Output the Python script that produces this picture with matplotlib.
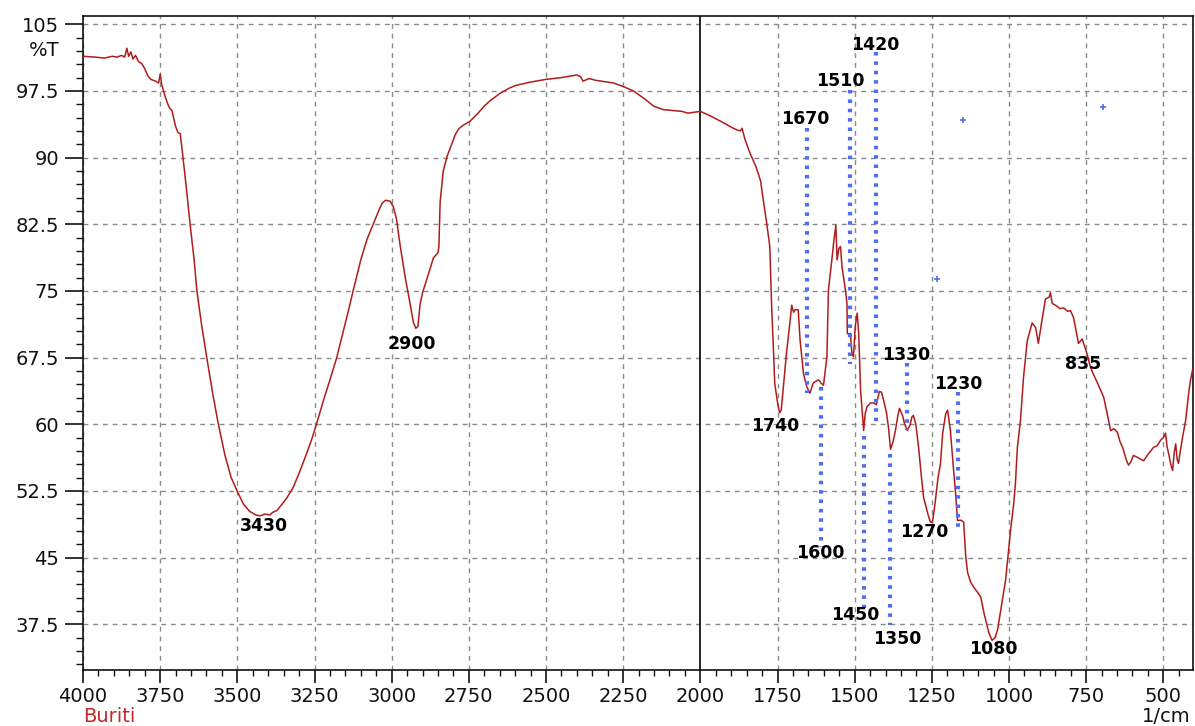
import numpy as np
import matplotlib
matplotlib.use("Agg")
import matplotlib.pyplot as plt
from matplotlib.ticker import FixedLocator, MultipleLocator
import matplotlib.transforms as mtransforms

# ---------------- data ----------------
wavenumber = [
    4000, 3960, 3930, 3905, 3890, 3875, 3865, 3858, 3852, 3845, 3838, 3830, 3820, 3810, 3800,
    3790, 3780, 3765, 3755, 3750, 3745, 3735, 3725, 3718, 3712, 3700, 3692, 3685, 3676, 3665,
    3653, 3640, 3631, 3615, 3599, 3580, 3562, 3540, 3520, 3502, 3480, 3460, 3440, 3426, 3410,
    3395, 3385, 3372, 3360, 3340, 3319, 3300, 3280, 3260, 3243, 3220, 3200, 3178, 3160, 3140,
    3125, 3100, 3080, 3060, 3040, 3030, 3020, 3005, 2995, 2985, 2972, 2956, 2940, 2930, 2922,
    2915, 2908, 2900, 2880, 2865, 2850, 2847, 2843, 2833, 2820, 2810, 2795, 2784, 2770, 2746,
    2720, 2700, 2681, 2650, 2620, 2600, 2550, 2500, 2450, 2400, 2388, 2380, 2360, 2340, 2300,
    2282, 2250, 2217, 2180, 2152, 2120, 2088, 2060, 2040, 2020, 2000,
    1968, 1935, 1893, 1880, 1870, 1865, 1855, 1838, 1820, 1805, 1796, 1785, 1775, 1769, 1764,
    1759, 1748, 1743, 1738, 1732, 1721, 1710, 1704, 1698, 1693, 1683, 1677, 1666, 1655, 1645,
    1635, 1628, 1617, 1608, 1601, 1590, 1585, 1574, 1568, 1561, 1557, 1551, 1546, 1541, 1530,
    1525, 1524, 1514, 1509, 1504, 1498, 1492, 1487, 1481, 1471, 1466, 1460, 1449, 1438, 1430,
    1420, 1413, 1405, 1397, 1390, 1384, 1376, 1368, 1360, 1355, 1345, 1338, 1329, 1320, 1315,
    1310, 1302, 1293, 1285, 1277, 1262, 1255, 1248, 1240, 1230, 1222, 1215, 1205, 1199, 1190,
    1180, 1173, 1167, 1155, 1147, 1140, 1134, 1125, 1115, 1100, 1092, 1080, 1065, 1055, 1045,
    1037, 1025, 1011, 995, 985, 979, 973, 963, 953, 941, 925, 914, 905, 892, 882,
    870, 866, 860, 845, 835, 823, 810, 801, 791, 775, 763, 747, 736, 725, 714,
    693, 682, 671, 660, 649, 640, 632, 620, 613, 605, 597, 580, 564, 550, 532,
    520, 509, 500, 493, 488, 483, 476, 470, 465, 460, 455, 451, 445, 438, 428,
    418, 412, 406,
]
transmittance = [
    101.4, 101.3, 101.2, 101.4, 101.3, 101.5, 101.3, 102.3, 101.4, 101.9, 101.1, 101.5, 100.8, 100.6, 100.0,
    99.2, 98.8, 98.6, 98.4, 99.4, 98.2, 97.0, 96.0, 95.5, 95.3, 93.5, 92.8, 92.7, 90.0, 86.5,
    82.5, 78.5, 75.0, 71.0, 67.5, 63.5, 60.1, 56.5, 54.0, 52.6, 51.0, 50.2, 49.8, 49.7, 49.9,
    49.8, 50.1, 50.3, 50.8, 51.7, 52.9, 54.5, 56.3, 58.2, 60.1, 62.8, 65.0, 67.5, 70.0, 72.8,
    75.0, 78.5, 80.8, 82.5, 84.2, 84.9, 85.2, 85.1, 84.5, 83.2, 80.0, 76.5, 73.5, 71.5, 70.8,
    71.0, 73.5, 74.8, 77.0, 78.7, 79.3, 80.0, 85.0, 88.5, 90.2, 91.1, 92.5, 93.2, 93.6, 94.1,
    95.0, 95.8, 96.4, 97.2, 97.8, 98.1, 98.5, 98.8, 99.0, 99.3, 99.1, 98.6, 98.9, 98.7, 98.5,
    98.4, 98.0, 97.5, 96.6, 95.8, 95.4, 95.3, 95.2, 95.0, 95.1, 95.2,
    94.7, 94.1, 93.3, 93.1, 93.0, 93.3, 92.0, 90.4, 89.0, 87.4, 85.2, 82.6, 80.0, 73.2, 69.1,
    64.6, 62.0, 61.3, 61.6, 63.9, 68.0, 71.4, 73.4, 72.6, 72.9, 72.9, 69.5, 65.7, 64.2, 63.5,
    64.6, 64.8, 65.0, 64.6, 64.4, 67.6, 75.1, 78.5, 80.5, 82.4, 78.5, 79.8, 80.0, 77.7, 75.1,
    73.6, 70.2, 70.2, 68.0, 67.6, 71.1, 72.5, 70.2, 63.9, 59.3, 61.2, 62.0, 62.4, 62.4, 62.2,
    63.7, 63.6, 62.5, 61.3, 59.5, 57.2, 58.0, 59.3, 61.0, 61.8, 61.0, 60.0, 59.3, 60.0, 60.8,
    61.0, 60.0, 57.4, 54.5, 51.8, 49.8, 49.0, 49.0, 51.0, 54.0, 55.6, 59.0, 61.2, 61.6, 59.3,
    55.0, 52.2, 49.2, 49.2, 49.0, 45.0, 43.3, 42.3, 41.7, 41.0, 40.6, 38.6, 36.5, 35.7, 36.0,
    36.9, 39.5, 42.5, 48.1, 51.0, 53.5, 57.4, 60.4, 65.3, 69.4, 71.4, 70.9, 69.1, 72.0, 74.1,
    74.3, 74.8, 73.6, 73.3, 73.0, 73.1, 72.7, 72.8, 72.0, 69.1, 69.6, 67.9, 66.4, 65.5, 64.7,
    63.0, 61.2, 59.3, 59.5, 59.1, 58.0, 57.4, 56.0, 55.4, 55.8, 56.5, 56.2, 55.9, 56.6, 57.4,
    57.6, 58.2, 58.5, 59.0, 57.5, 56.7, 55.5, 54.8, 56.8, 57.8, 56.0, 55.6, 57.0, 58.5, 60.4,
    63.5, 65.0, 66.0,
]

# peak labels: text and anchor (wavenumber, %T)
peak_text = ["3430", "2900", "1740", "1670", "1510", "1420", "1600", "1450",
             "1350", "1330", "1230", "1270", "1080", "835"]
peak_x = [3414, 2934, 1758, 1660, 1546, 1434, 1612, 1498, 1363, 1334, 1165, 1275, 1052, 760]
peak_y = [48.6, 69.0, 59.8, 94.3, 98.6, 102.7, 45.5, 38.6, 35.9, 67.8, 64.5, 47.9, 34.7, 66.8]

# blue dotted marker lines: wavenumber, top %T, bottom %T
marker_x = [1654, 1610, 1515, 1432, 1470, 1385, 1332, 1164]
marker_top = [93.3, 64.2, 97.6, 101.9, 58.7, 56.7, 66.9, 63.6]
marker_bot = [63.5, 46.2, 66.8, 59.7, 39.3, 37.4, 59.4, 47.9]

# stray blue points
stray_x = [1148, 694, 1233]
stray_y = [94.2, 95.7, 76.4]

x_ticks = [4000, 3750, 3500, 3250, 3000, 2750, 2500, 2250, 2000, 1750, 1500, 1250, 1000, 750, 500]
y_ticks = [37.5, 45, 52.5, 60, 67.5, 75, 82.5, 90, 97.5, 105]
y_tick_labels = ["37.5", "45", "52.5", "60", "67.5", "75", "82.5", "90", "97.5", "105"]

# ---------------- figure ----------------
plt.rcParams['font.family'] = ['DejaVu Sans']
fig = plt.figure(figsize=(11.95, 7.26), dpi=100)
ax = fig.add_axes([83 / 1195, 56 / 726, 1110 / 1195, 654 / 726])

ax.set_xlim(4000, 404)
ax.set_ylim(32.36, 105.93)

# grid
for xv in x_ticks:
    if xv == 2000:
        continue
    ax.axvline(xv, color='#8a8a8a', lw=1.0, ls=(0, (3.5, 3.5)), zorder=1)
for yv in y_ticks:
    ax.axhline(yv, color='#8a8a8a', lw=1.0, ls=(0, (3.5, 3.5)), zorder=1)
ax.axvline(2000, color='black', lw=1.2, zorder=2)

# spectrum
ax.plot(wavenumber, transmittance, color='#b01c1c', lw=1.1, zorder=3)

# blue dotted marker lines
for mx, mt, mb in zip(marker_x, marker_top, marker_bot):
    ax.plot([mx, mx], [mt, mb], color='#4d6ff0', lw=3.0,
            ls=(0, (0.85, 1.4)), solid_capstyle='butt', dash_capstyle='butt', zorder=4)
ax.plot(stray_x, stray_y, ls='none', marker='+', ms=4, mew=1.2, color='#4d6ff0', zorder=4)

# peak labels
for t, px, py in zip(peak_text, peak_x, peak_y):
    ax.text(px, py, t, ha='center', va='center', fontsize=12.5, fontweight='bold',
            color='black', zorder=5)

# ticks
ax.xaxis.set_major_locator(FixedLocator(x_ticks))
ax.xaxis.set_minor_locator(MultipleLocator(50))
ax.set_xticklabels([str(v) for v in x_ticks])
ax.yaxis.set_major_locator(FixedLocator(y_ticks))
ax.yaxis.set_minor_locator(MultipleLocator(1.5))
ax.set_yticklabels(y_tick_labels)
ax.tick_params(axis='y', which='major', direction='out', length=13, width=1.2,
               labelsize=14, pad=4, colors='#111111')
ax.tick_params(axis='y', which='minor', direction='out', length=5, width=1.0, colors='#111111')
ax.tick_params(axis='x', which='major', direction='out', length=9, width=1.2,
               labelsize=14, pad=3, colors='#111111')
ax.tick_params(axis='x', which='minor', direction='out', length=4.5, width=1.0, colors='#111111')

for s in ax.spines.values():
    s.set_linewidth(1.2)
    s.set_color('#111111')

trans = mtransforms.blended_transform_factory(ax.transAxes, ax.transData)
ax.text(-0.021, 102.0, '%T', transform=trans, ha='right', va='center', fontsize=14, color='#111111')

fig.text(83 / 1195, 1 - 717 / 726, 'Buriti', ha='left', va='center', fontsize=14, color='#c0282a')
fig.text(1190 / 1195, 1 - 717 / 726, '1/cm', ha='right', va='center', fontsize=14, color='#111111')

fig.savefig('out.png', dpi=100)
